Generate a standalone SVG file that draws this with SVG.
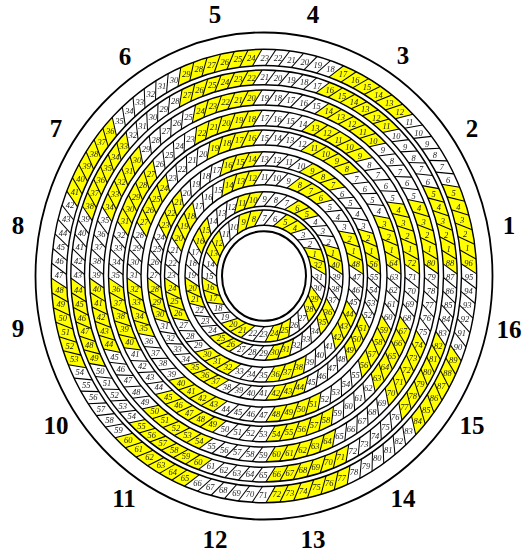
<svg xmlns="http://www.w3.org/2000/svg" width="524" height="552" viewBox="0 0 524 552">
<style>
.big{font:bold 25px "Liberation Serif",serif;text-anchor:middle;fill:#000}
.z path{fill:#ff0;stroke:none}
.s{stroke:#000;stroke-width:1;fill:none}
.a circle{fill:none;stroke:#000;stroke-width:1.4}
.l{font:italic 8.5px "Liberation Serif",serif;fill:#222;text-anchor:middle;filter:url(#g)}
.l text{--a:calc(var(--w)*(var(--t,0) + var(--o) + .95));transform:rotate(calc(var(--a)*-1deg)) translate(var(--r)) rotate(calc(var(--a)*1deg));dominant-baseline:central}
.l text:nth-child(10n){--o:0}.l text:nth-child(10n+1){--o:1}.l text:nth-child(10n+2){--o:2}.l text:nth-child(10n+3){--o:3}.l text:nth-child(10n+4){--o:4}.l text:nth-child(10n+5){--o:5}.l text:nth-child(10n+6){--o:6}.l text:nth-child(10n+7){--o:7}.l text:nth-child(10n+8){--o:8}.l text:nth-child(10n+9){--o:9}
.l text:nth-child(n+10){--t:10}.l text:nth-child(n+20){--t:20}.l text:nth-child(n+30){--t:30}.l text:nth-child(n+40){--t:40}.l text:nth-child(n+50){--t:50}.l text:nth-child(n+60){--t:60}.l text:nth-child(n+70){--t:70}.l text:nth-child(n+80){--t:80}.l text:nth-child(n+90){--t:90}
</style>
<defs>
<filter id="g" filterUnits="userSpaceOnUse" x="-300" y="-300" width="600" height="600" color-interpolation-filters="sRGB"><feOffset dx="0" dy="0"/></filter>
<line id="l1" x1="197.4" y1="-5" x2="212.6" y2="5"/>
<line id="l2" x1="179.4" y1="-5" x2="193.1" y2="5"/>
<line id="l3" x1="160.4" y1="-5" x2="174.4" y2="5"/>
<line id="l4" x1="140.9" y1="-5" x2="155.4" y2="5"/>
<line id="l5" x1="122.9" y1="-5" x2="136.9" y2="5"/>
<line id="l6" x1="103.4" y1="-5" x2="116.4" y2="5"/>
<line id="l7" x1="85.4" y1="-5" x2="99.4" y2="5"/>
<line id="l8" x1="65.3" y1="-5" x2="78.8" y2="5"/>
<line id="l9" x1="47.2" y1="-5" x2="61.8" y2="5"/>
<g id="wy" class="z">
<path transform="rotate(-1.875)" d="M197.4-5L212.6 5A212.7 212.7 0 0 0 198.33-76.74L180.46-80.16A197.5 197.5 0 0 1 197.4-5Z"/>
<path transform="rotate(-2.045)" d="M179.4-5L193.1 5A193.2 193.2 0 0 0 177.73-75.66L161.11-79.07A179.5 179.5 0 0 1 179.4-5Z"/>
<path transform="rotate(-2.25)" d="M160.4-5L174.4 5A174.5 174.5 0 0 0 163.03-62.12L146.28-66A160.5 160.5 0 0 1 160.4-5Z"/>
<path transform="rotate(-2.5)" d="M140.9-5L155.4 5A155.5 155.5 0 0 0 142.95-61.15L125.59-64.08A141 141 0 0 1 140.9-5Z"/>
<path transform="rotate(-2.8125)" d="M122.9-5L136.9 5A137 137 0 0 0 128.39-47.77L111.63-51.65A123 123 0 0 1 122.9-5Z"/>
<path transform="rotate(-3.214)" d="M103.4-5L116.4 5A116.5 116.5 0 0 0 111.52-33.72L95.95-38.87A103.5 103.5 0 0 1 103.4-5Z"/>
<path transform="rotate(-3.75)" d="M85.4-5L99.4 5A99.5 99.5 0 0 0 93.74-33.42L76.99-37.3A85.5 85.5 0 0 1 85.4-5Z"/>
<path transform="rotate(-4.5)" d="M65.3-5L78.8 5A79 79 0 0 0 76.49-19.59L60.55-24.94A65.5 65.5 0 0 1 65.3-5Z"/>
<path transform="rotate(-5.625)" d="M47.2-5L61.8 5A62 62 0 0 0 59.01-19.03L41.7-22.68A47.5 47.5 0 0 1 47.2-5Z"/>
</g>
<g id="ws" class="s">
<use href="#l1" transform="rotate(-1.875)"/><use href="#l1" transform="rotate(-5.625)"/><use href="#l1" transform="rotate(-9.375)"/><use href="#l1" transform="rotate(-13.125)"/><use href="#l1" transform="rotate(-16.875)"/><use href="#l1" transform="rotate(-20.625)"/><use href="#l1" transform="rotate(-24.375)"/><use href="#l1" transform="rotate(-28.125)"/><use href="#l1" transform="rotate(-31.875)"/><use href="#l1" transform="rotate(-35.625)"/><use href="#l1" transform="rotate(-39.375)"/><use href="#l1" transform="rotate(-43.125)"/>
<use href="#l2" transform="rotate(-2.045)"/><use href="#l2" transform="rotate(-6.136)"/><use href="#l2" transform="rotate(-10.227)"/><use href="#l2" transform="rotate(-14.318)"/><use href="#l2" transform="rotate(-18.409)"/><use href="#l2" transform="rotate(-22.5)"/><use href="#l2" transform="rotate(-26.591)"/><use href="#l2" transform="rotate(-30.682)"/><use href="#l2" transform="rotate(-34.773)"/><use href="#l2" transform="rotate(-38.864)"/><use href="#l2" transform="rotate(-42.955)"/>
<use href="#l3" transform="rotate(-2.25)"/><use href="#l3" transform="rotate(-6.75)"/><use href="#l3" transform="rotate(-11.25)"/><use href="#l3" transform="rotate(-15.75)"/><use href="#l3" transform="rotate(-20.25)"/><use href="#l3" transform="rotate(-24.75)"/><use href="#l3" transform="rotate(-29.25)"/><use href="#l3" transform="rotate(-33.75)"/><use href="#l3" transform="rotate(-38.25)"/><use href="#l3" transform="rotate(-42.75)"/>
<use href="#l4" transform="rotate(-2.5)"/><use href="#l4" transform="rotate(-7.5)"/><use href="#l4" transform="rotate(-12.5)"/><use href="#l4" transform="rotate(-17.5)"/><use href="#l4" transform="rotate(-22.5)"/><use href="#l4" transform="rotate(-27.5)"/><use href="#l4" transform="rotate(-32.5)"/><use href="#l4" transform="rotate(-37.5)"/><use href="#l4" transform="rotate(-42.5)"/>
<use href="#l5" transform="rotate(-2.8125)"/><use href="#l5" transform="rotate(-8.4375)"/><use href="#l5" transform="rotate(-14.0625)"/><use href="#l5" transform="rotate(-19.6875)"/><use href="#l5" transform="rotate(-25.3125)"/><use href="#l5" transform="rotate(-30.9375)"/><use href="#l5" transform="rotate(-36.5625)"/><use href="#l5" transform="rotate(-42.1875)"/>
<use href="#l6" transform="rotate(-3.214)"/><use href="#l6" transform="rotate(-9.643)"/><use href="#l6" transform="rotate(-16.071)"/><use href="#l6" transform="rotate(-22.5)"/><use href="#l6" transform="rotate(-28.929)"/><use href="#l6" transform="rotate(-35.357)"/><use href="#l6" transform="rotate(-41.786)"/>
<use href="#l7" transform="rotate(-3.75)"/><use href="#l7" transform="rotate(-11.25)"/><use href="#l7" transform="rotate(-18.75)"/><use href="#l7" transform="rotate(-26.25)"/><use href="#l7" transform="rotate(-33.75)"/><use href="#l7" transform="rotate(-41.25)"/>
<use href="#l8" transform="rotate(-4.5)"/><use href="#l8" transform="rotate(-13.5)"/><use href="#l8" transform="rotate(-22.5)"/><use href="#l8" transform="rotate(-31.5)"/><use href="#l8" transform="rotate(-40.5)"/>
<use href="#l9" transform="rotate(-5.625)"/><use href="#l9" transform="rotate(-16.875)"/><use href="#l9" transform="rotate(-28.125)"/><use href="#l9" transform="rotate(-39.375)"/>
</g>
<g id="w"><use href="#wy"/><use href="#ws"/></g>
</defs>
<g transform="translate(264 276) scale(1 1.066)">
<g id="sectors">
<use href="#w"/><use href="#w" transform="rotate(45)"/><use href="#w" transform="rotate(90)"/><use href="#w" transform="rotate(135)"/><use href="#w" transform="rotate(180)"/><use href="#w" transform="rotate(225)"/><use href="#w" transform="rotate(270)"/><use href="#w" transform="rotate(315)"/>
</g>
<g id="tracks" class="a">
<circle r="212.7"/><circle r="197.5"/><circle r="193.2"/><circle r="179.5"/><circle r="174.5"/><circle r="160.5"/><circle r="155.5"/><circle r="141"/><circle r="137"/><circle r="123"/><circle r="116.5"/><circle r="103.5"/><circle r="99.5"/><circle r="85.5"/><circle r="79"/><circle r="65.5"/><circle r="62"/><circle r="47.5"/>
<circle r="228.5" style="stroke-width:1.8"/><circle r="42" style="stroke-width:2"/>
</g>
<g class="l" style="--w:3.75;--r:205px"><text>1</text><text>2</text><text>3</text><text>4</text><text>5</text><text>6</text><text>7</text><text>8</text><text>9</text><text>10</text><text>11</text><text>12</text><text>13</text><text>14</text><text>15</text><text>16</text><text>17</text><text>18</text><text>19</text><text>20</text><text>21</text><text>22</text><text>23</text><text>24</text><text>25</text><text>26</text><text>27</text><text>28</text><text>29</text><text>30</text><text>31</text><text>32</text><text>33</text><text>34</text><text>35</text><text>36</text><text>37</text><text>38</text><text>39</text><text>40</text><text>41</text><text>42</text><text>43</text><text>44</text><text>45</text><text>46</text><text>47</text><text>48</text><text>49</text><text>50</text><text>51</text><text>52</text><text>53</text><text>54</text><text>55</text><text>56</text><text>57</text><text>58</text><text>59</text><text>60</text><text>61</text><text>62</text><text>63</text><text>64</text><text>65</text><text>66</text><text>67</text><text>68</text><text>69</text><text>70</text><text>71</text><text>72</text><text>73</text><text>74</text><text>75</text><text>76</text><text>77</text><text>78</text><text>79</text><text>80</text><text>81</text><text>82</text><text>83</text><text>84</text><text>85</text><text>86</text><text>87</text><text>88</text><text>89</text><text>90</text><text>91</text><text>92</text><text>93</text><text>94</text><text>95</text><text>96</text></g>
<g class="l" style="--w:4.0909;--r:186.3px"><text>1</text><text>2</text><text>3</text><text>4</text><text>5</text><text>6</text><text>7</text><text>8</text><text>9</text><text>10</text><text>11</text><text>12</text><text>13</text><text>14</text><text>15</text><text>16</text><text>17</text><text>18</text><text>19</text><text>20</text><text>21</text><text>22</text><text>23</text><text>24</text><text>25</text><text>26</text><text>27</text><text>28</text><text>29</text><text>30</text><text>31</text><text>32</text><text>33</text><text>34</text><text>35</text><text>36</text><text>37</text><text>38</text><text>39</text><text>40</text><text>41</text><text>42</text><text>43</text><text>44</text><text>45</text><text>46</text><text>47</text><text>48</text><text>49</text><text>50</text><text>51</text><text>52</text><text>53</text><text>54</text><text>55</text><text>56</text><text>57</text><text>58</text><text>59</text><text>60</text><text>61</text><text>62</text><text>63</text><text>64</text><text>65</text><text>66</text><text>67</text><text>68</text><text>69</text><text>70</text><text>71</text><text>72</text><text>73</text><text>74</text><text>75</text><text>76</text><text>77</text><text>78</text><text>79</text><text>80</text><text>81</text><text>82</text><text>83</text><text>84</text><text>85</text><text>86</text><text>87</text><text>88</text></g>
<g class="l" style="--w:4.5;--r:167.5px"><text>1</text><text>2</text><text>3</text><text>4</text><text>5</text><text>6</text><text>7</text><text>8</text><text>9</text><text>10</text><text>11</text><text>12</text><text>13</text><text>14</text><text>15</text><text>16</text><text>17</text><text>18</text><text>19</text><text>20</text><text>21</text><text>22</text><text>23</text><text>24</text><text>25</text><text>26</text><text>27</text><text>28</text><text>29</text><text>30</text><text>31</text><text>32</text><text>33</text><text>34</text><text>35</text><text>36</text><text>37</text><text>38</text><text>39</text><text>40</text><text>41</text><text>42</text><text>43</text><text>44</text><text>45</text><text>46</text><text>47</text><text>48</text><text>49</text><text>50</text><text>51</text><text>52</text><text>53</text><text>54</text><text>55</text><text>56</text><text>57</text><text>58</text><text>59</text><text>60</text><text>61</text><text>62</text><text>63</text><text>64</text><text>65</text><text>66</text><text>67</text><text>68</text><text>69</text><text>70</text><text>71</text><text>72</text><text>73</text><text>74</text><text>75</text><text>76</text><text>77</text><text>78</text><text>79</text><text>80</text></g>
<g class="l" style="--w:5;--r:148.2px"><text>1</text><text>2</text><text>3</text><text>4</text><text>5</text><text>6</text><text>7</text><text>8</text><text>9</text><text>10</text><text>11</text><text>12</text><text>13</text><text>14</text><text>15</text><text>16</text><text>17</text><text>18</text><text>19</text><text>20</text><text>21</text><text>22</text><text>23</text><text>24</text><text>25</text><text>26</text><text>27</text><text>28</text><text>29</text><text>30</text><text>31</text><text>32</text><text>33</text><text>34</text><text>35</text><text>36</text><text>37</text><text>38</text><text>39</text><text>40</text><text>41</text><text>42</text><text>43</text><text>44</text><text>45</text><text>46</text><text>47</text><text>48</text><text>49</text><text>50</text><text>51</text><text>52</text><text>53</text><text>54</text><text>55</text><text>56</text><text>57</text><text>58</text><text>59</text><text>60</text><text>61</text><text>62</text><text>63</text><text>64</text><text>65</text><text>66</text><text>67</text><text>68</text><text>69</text><text>70</text><text>71</text><text>72</text></g>
<g class="l" style="--w:5.625;--r:130px"><text>1</text><text>2</text><text>3</text><text>4</text><text>5</text><text>6</text><text>7</text><text>8</text><text>9</text><text>10</text><text>11</text><text>12</text><text>13</text><text>14</text><text>15</text><text>16</text><text>17</text><text>18</text><text>19</text><text>20</text><text>21</text><text>22</text><text>23</text><text>24</text><text>25</text><text>26</text><text>27</text><text>28</text><text>29</text><text>30</text><text>31</text><text>32</text><text>33</text><text>34</text><text>35</text><text>36</text><text>37</text><text>38</text><text>39</text><text>40</text><text>41</text><text>42</text><text>43</text><text>44</text><text>45</text><text>46</text><text>47</text><text>48</text><text>49</text><text>50</text><text>51</text><text>52</text><text>53</text><text>54</text><text>55</text><text>56</text><text>57</text><text>58</text><text>59</text><text>60</text><text>61</text><text>62</text><text>63</text><text>64</text></g>
<g class="l" style="--w:6.42857;--r:110px"><text>1</text><text>2</text><text>3</text><text>4</text><text>5</text><text>6</text><text>7</text><text>8</text><text>9</text><text>10</text><text>11</text><text>12</text><text>13</text><text>14</text><text>15</text><text>16</text><text>17</text><text>18</text><text>19</text><text>20</text><text>21</text><text>22</text><text>23</text><text>24</text><text>25</text><text>26</text><text>27</text><text>28</text><text>29</text><text>30</text><text>31</text><text>32</text><text>33</text><text>34</text><text>35</text><text>36</text><text>37</text><text>38</text><text>39</text><text>40</text><text>41</text><text>42</text><text>43</text><text>44</text><text>45</text><text>46</text><text>47</text><text>48</text><text>49</text><text>50</text><text>51</text><text>52</text><text>53</text><text>54</text><text>55</text><text>56</text></g>
<g class="l" style="--w:7.5;--r:92.5px"><text>1</text><text>2</text><text>3</text><text>4</text><text>5</text><text>6</text><text>7</text><text>8</text><text>9</text><text>10</text><text>11</text><text>12</text><text>13</text><text>14</text><text>15</text><text>16</text><text>17</text><text>18</text><text>19</text><text>20</text><text>21</text><text>22</text><text>23</text><text>24</text><text>25</text><text>26</text><text>27</text><text>28</text><text>29</text><text>30</text><text>31</text><text>32</text><text>33</text><text>34</text><text>35</text><text>36</text><text>37</text><text>38</text><text>39</text><text>40</text><text>41</text><text>42</text><text>43</text><text>44</text><text>45</text><text>46</text><text>47</text><text>48</text></g>
<g class="l" style="--w:9;--r:72.2px"><text>1</text><text>2</text><text>3</text><text>4</text><text>5</text><text>6</text><text>7</text><text>8</text><text>9</text><text>10</text><text>11</text><text>12</text><text>13</text><text>14</text><text>15</text><text>16</text><text>17</text><text>18</text><text>19</text><text>20</text><text>21</text><text>22</text><text>23</text><text>24</text><text>25</text><text>26</text><text>27</text><text>28</text><text>29</text><text>30</text><text>31</text><text>32</text><text>33</text><text>34</text><text>35</text><text>36</text><text>37</text><text>38</text><text>39</text><text>40</text></g>
<g class="l" style="--w:11.25;--r:54.7px"><text>1</text><text>2</text><text>3</text><text>4</text><text>5</text><text>6</text><text>7</text><text>8</text><text>9</text><text>10</text><text>11</text><text>12</text><text>13</text><text>14</text><text>15</text><text>16</text><text>17</text><text>18</text><text>19</text><text>20</text><text>21</text><text>22</text><text>23</text><text>24</text><text>25</text><text>26</text><text>27</text><text>28</text><text>29</text><text>30</text><text>31</text><text>32</text></g>
</g>
<g id="zones">
<text class="big" x="509" y="234">1</text><text class="big" x="472" y="137">2</text><text class="big" x="403" y="64">3</text><text class="big" x="313" y="23">4</text><text class="big" x="215" y="23">5</text><text class="big" x="125" y="65">6</text><text class="big" x="56" y="137">7</text><text class="big" x="18" y="234">8</text><text class="big" x="18" y="337">9</text><text class="big" x="56" y="434">10</text><text class="big" x="124" y="507">11</text><text class="big" x="215" y="548">12</text><text class="big" x="313" y="548">13</text><text class="big" x="403" y="507">14</text><text class="big" x="472" y="434">15</text><text class="big" x="509" y="338">16</text>
</g>
</svg>
